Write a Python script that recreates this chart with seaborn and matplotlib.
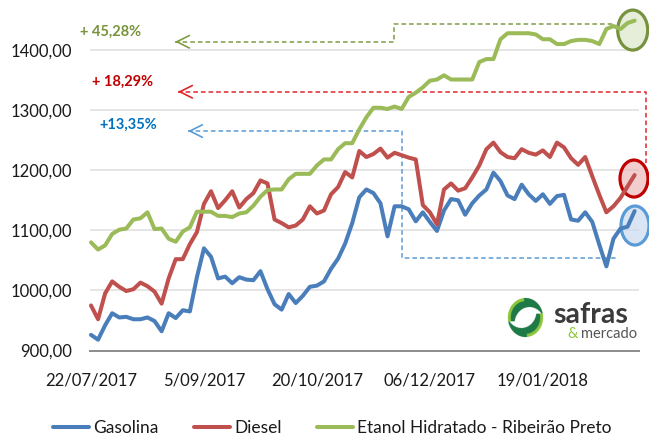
import numpy as np
import pandas as pd
import seaborn as sns
import matplotlib.pyplot as plt
from matplotlib.patches import Ellipse
from matplotlib.lines import Line2D
from matplotlib.colors import to_rgb

# ---------------- data ----------------
gasolina = [926, 918, 942, 962, 955, 956, 952, 952, 955, 949,
            932, 962, 954, 967, 965, 1022, 1070, 1056, 1020, 1023,
            1012, 1022, 1018, 1017, 1032, 1002, 977, 968, 994, 979,
            991, 1006, 1008, 1015, 1036, 1053, 1078, 1112, 1155, 1168,
            1162, 1145, 1090, 1140, 1140, 1135, 1115, 1130, 1114, 1099,
            1133, 1152, 1150, 1126, 1145, 1158, 1168, 1196, 1182, 1158,
            1152, 1176, 1160, 1149, 1160, 1144, 1157, 1159, 1118, 1116,
            1130, 1114, 1076, 1040, 1086, 1103, 1106, 1132]
diesel = [975, 952, 995, 1015, 1006, 999, 1002, 1013, 1007, 998,
          978, 1020, 1052, 1052, 1077, 1097, 1144, 1165, 1137, 1150,
          1165, 1138, 1152, 1162, 1183, 1178, 1118, 1112, 1105, 1108,
          1118, 1140, 1128, 1133, 1160, 1172, 1197, 1188, 1232, 1222,
          1227, 1236, 1221, 1229, 1225, 1221, 1218, 1142, 1130, 1110,
          1168, 1178, 1166, 1170, 1188, 1208, 1235, 1246, 1230, 1222,
          1220, 1235, 1229, 1226, 1233, 1222, 1246, 1238, 1220, 1209,
          1222, 1190, 1159, 1130, 1140, 1154, 1173, 1192]
etanol = [1080, 1068, 1075, 1094, 1101, 1103, 1118, 1120, 1130, 1102,
          1103, 1086, 1081, 1098, 1105, 1131, 1131, 1131, 1124, 1124,
          1122, 1128, 1130, 1141, 1156, 1167, 1168, 1168, 1185, 1194,
          1194, 1194, 1208, 1218, 1218, 1235, 1245, 1245, 1268, 1288,
          1304, 1304, 1302, 1306, 1302, 1322, 1329, 1338, 1349, 1351,
          1358, 1351, 1351, 1351, 1351, 1380, 1385, 1385, 1418, 1428,
          1428, 1428, 1428, 1426, 1418, 1418, 1410, 1410, 1415, 1417,
          1417, 1415, 1410, 1435, 1440, 1435, 1445, 1449]

series_names = ["Gasolina", "Diesel", "Etanol Hidratado - Ribeirão Preto"]
tick_labels = ["22/07/2017", "5/09/2017", "20/10/2017", "06/12/2017", "19/01/2018"]
tick_every = 16
y_ticks = [900, 1000, 1100, 1200, 1300, 1400]
pct_labels = ["+13,35%", "+ 18,29%", "+ 45,28%"]

colors = {"Gasolina": "#4A7EBB", "Diesel": "#C0504D",
          "Etanol Hidratado - Ribeirão Preto": "#9BBB59"}

df = pd.DataFrame({"idx": np.arange(len(gasolina)),
                   series_names[0]: gasolina,
                   series_names[1]: diesel,
                   series_names[2]: etanol})
long = df.melt(id_vars="idx", var_name="serie", value_name="valor")

# ---------------- figure ----------------
sns.set_theme(style="white")
plt.rcParams['font.family'] = ['Lato', 'DejaVu Sans']

W, H = 649, 437
fig = plt.figure(figsize=(W / 100, H / 100), dpi=100)
ax = fig.add_axes([90 / W, 1 - 350.5 / H, (639 - 90) / W, (350.5 - 2) / H])

sns.lineplot(data=long, x="idx", y="valor", hue="serie", palette=colors,
             hue_order=series_names, linewidth=2.9, legend=False, ax=ax,
             zorder=3)
for ln in ax.get_lines():
    ln.set_clip_on(False)

px_per_idx = 7.06
ax.set_xlim(-1 / px_per_idx, (639 - 91) / px_per_idx)
ax.set_ylim(900, 1480)


def to_data(px, py):
    return (px - 91) / px_per_idx, 900 + (350.5 - py) / 0.601


ax.set_yticks(y_ticks)
ax.set_yticklabels([f"{v:.2f}".replace(".", ",") for v in y_ticks])
ax.set_xticks(np.arange(len(tick_labels)) * tick_every)
ax.set_xticklabels(tick_labels)
ax.set_xlabel("")
ax.set_ylabel("")
ax.tick_params(axis="y", length=0, pad=13, labelsize=12, labelcolor="#1a1a1a")
ax.tick_params(axis="x", length=0, pad=16, labelsize=12, labelcolor="#1a1a1a")
ax.yaxis.grid(True, color="#dedede", linewidth=1.1)
ax.xaxis.grid(False)
ax.set_axisbelow(True)
for s in ["left", "top", "right"]:
    ax.spines[s].set_visible(False)
ax.spines["bottom"].set_color("#8c8c8c")
ax.spines["bottom"].set_linewidth(1.4)

# ---------------- dashed annotation arrows ----------------
dash = (0, (3, 2))


def dashed_path(points_px, color):
    pts = [to_data(*p) for p in points_px]
    xs, ys = zip(*pts)
    ax.plot(xs, ys, color=color, lw=1.1, linestyle=dash, zorder=2,
            clip_on=False)
    tip = pts[0]
    ax.annotate("", xy=tip, xytext=(tip[0] + 0.4, tip[1]),
                arrowprops=dict(arrowstyle="->,head_length=0.9,head_width=0.45",
                                color=color, lw=1.2, shrinkA=0, shrinkB=0,
                                mutation_scale=10),
                annotation_clip=False, zorder=2)


dashed_path([(175, 41.7), (394, 41.7), (394, 24), (613, 24)], "#7E9C45")
dashed_path([(178, 91.7), (646, 91.7), (646, 163)], "#E0262B")
dashed_path([(188, 131), (402, 131), (402, 258.3), (617, 258.3)], "#5B9BD5")

# percentage texts
txt = [(pct_labels[2], 80, 32, "#77933C"),
       (pct_labels[1], 92, 81.5, "#C00000"),
       (pct_labels[0], 99, 125, "#0070C0")]
for t, px, py, c in txt:
    dx, dy = to_data(px, py)
    ax.text(dx, dy, t, color=c, fontsize=10.5, fontweight="bold",
            ha="left", va="center", clip_on=False)

# ---------------- ellipses ----------------
ell = [((632.7, 30), 30, 40, "#DCE6C8", "#76923C"),
       ((634, 178.5), 28, 37, "#EDB8B8", "#C00000"),
       ((635, 225.5), 28, 39, "#CADBF0", "#5B9BD5")]
for (cx, cy), w, h, fc, ec in ell:
    dx, dy = to_data(cx, cy)
    e = Ellipse((dx, dy), w / px_per_idx, h / 0.601,
                facecolor=(*to_rgb(fc), 0.7), edgecolor=ec, lw=2.3,
                zorder=2.5, clip_on=False)
    ax.add_patch(e)

# ---------------- legend ----------------
handles = [Line2D([0], [0], color=colors[n], lw=2.9) for n in series_names]
fig.legend(handles, series_names, loc="center", ncol=3,
           bbox_to_anchor=(0.512, 1 - 428 / H), frameon=False,
           fontsize=12.5, handlelength=2.1, handletextpad=0.25,
           columnspacing=2.0, labelcolor="#1a1a1a")

# ---------------- logo ----------------
dark = np.array(to_rgb("#1E7A47"))
light = np.array(to_rgb("#8DC63F"))
n = 240
gx, gy = np.meshgrid(np.linspace(-1, 1, n), np.linspace(1, -1, n))
img = np.ones((n, n, 4))
img[..., 3] = 0
r = np.hypot(gx, gy)
ang = np.degrees(np.arctan2(gy, gx)) % 360


def crescent(x, y):
    return (np.hypot(x, y) <= 0.97) & (np.hypot(x - 0.22, y + 0.3) > 0.8) & (y > -0.2)


up = crescent(gx, gy)
lo = crescent(-gx, -gy)
rim_up = up & (r > 0.8) & (ang > 95) & (ang < 215)
rim_lo = lo & (r > 0.8) & ((ang > 275) | (ang < 35))
for m, c in [(up, dark), (lo, dark), (rim_up, light), (rim_lo, light)]:
    img[m, :3] = c
    img[m, 3] = 1
lax = fig.add_axes([507 / W, 1 - 338 / H, 37 / W, 41 / H])
lax.imshow(img, extent=(-1, 1, -1, 1), aspect="auto", interpolation="bilinear")
lax.axis("off")

fig.text(553 / W, 1 - 323 / H, "safras", fontsize=20.5, fontweight="bold",
         color="#3B3B3B", ha="left", va="baseline")
fig.text(567 / W, 1 - 338.5 / H, "&", fontsize=10.5, color="#8DC63F",
         ha="left", va="baseline")
fig.text(581 / W, 1 - 338.5 / H, "mercado", fontsize=10.5, color="#555555",
         ha="left", va="baseline")

fig.savefig("out.png", dpi=100)
